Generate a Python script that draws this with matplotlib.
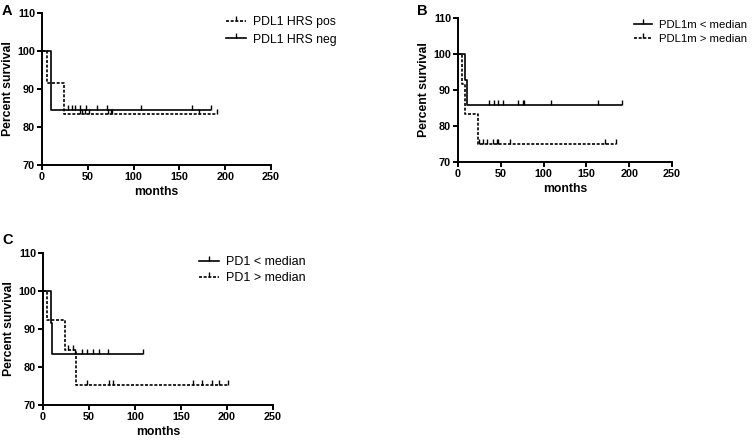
import numpy as np
import matplotlib
matplotlib.use('Agg')
import matplotlib.pyplot as plt
from matplotlib.lines import Line2D

W, H = 753, 440
plt.rcParams['font.family'] = ['Liberation Sans', 'DejaVu Sans']

# ---------------- data ----------------
# Panel A
a_pos_t = [0, 5.5, 24.4]
a_pos_s = [100, 91.7, 83.3]
a_pos_end = 190.7
a_pos_cens = [41.5, 44, 47, 51.3, 72.4, 75, 76.8, 171.7, 190.7]
a_neg_t = [0, 10]
a_neg_s = [100, 84.6]
a_neg_end = 184
a_neg_cens = [28.7, 33, 36, 41.5, 47.7, 59.7, 71.3, 108, 164, 184]

# Panel B
b_low_t = [0, 8.5, 10.3]
b_low_s = [100, 92.9, 85.7]
b_low_end = 191.5
b_low_cens = [36.2, 42.4, 47.1, 52.9, 70.5, 76.4, 77.5, 108.4, 164, 191.5]
b_high_t = [0, 4.7, 8.5, 23.5]
b_high_s = [100, 91.7, 83.3, 75.0]
b_high_end = 184.2
b_high_cens = [24.9, 29.6, 33.5, 41.2, 45.2, 47.1, 60.7, 171.7, 184.2]

# Panel C
c_low_t = [0, 8.4, 10.2]
c_low_s = [100, 91.7, 83.3]
c_low_end = 108.4
c_low_cens = [34.8, 42, 48.2, 54, 60.9, 71, 108.4]
c_high_t = [0, 4.7, 23.6, 35.6]
c_high_s = [100, 92.3, 84.6, 75.2]
c_high_end = 201.4
c_high_cens = [27.5, 32.3, 47.5, 72, 75.8, 163.4, 172.5, 183.5, 191.5, 201.4]

x_ticks = [0, 50, 100, 150, 200, 250]
y_ticks = [70, 80, 90, 100, 110]

TICK = [(0, 0), (0, 1)]
DASH = (0, (1.8, 1.0))


def km(ax, t, s, end, cens, dashed):
    ls = DASH if dashed else '-'
    xs = list(t) + [end]
    ys = list(s) + [s[-1]]
    ax.step(xs, ys, where='post', color='black', lw=1.2, ls=ls,
            solid_capstyle='butt', dash_capstyle='butt')
    tt = np.asarray(t)
    ss = np.asarray(s)
    cy = [ss[np.searchsorted(tt, c, side='right') - 1] for c in cens]
    ax.plot(cens, cy, ls='none', marker=TICK, markersize=7, mew=1.0,
            color='black')


def handle(dashed):
    return Line2D([], [], color='black', lw=1.2, ls=DASH if dashed else '-',
                  marker=TICK, markersize=7, mew=1.0)


def style(ax):
    ax.set_xlim(0, 250)
    ax.set_ylim(70, 110)
    ax.set_xticks(x_ticks)
    ax.set_yticks(y_ticks)
    for sp in ['top', 'right']:
        ax.spines[sp].set_visible(False)
    for sp in ['left', 'bottom']:
        ax.spines[sp].set_linewidth(1.4)
    ax.tick_params(direction='out', length=3.5, width=1.4, labelsize=7.8,
                   pad=1.5)
    for lab in ax.get_xticklabels() + ax.get_yticklabels():
        lab.set_fontweight('bold')
    ax.set_xlabel('months', fontsize=8.8, fontweight='bold', labelpad=3)
    ax.set_ylabel('Percent survival', fontsize=8.8, fontweight='bold',
                  labelpad=2)


def px_axes(fig, x0, x1, ytop, ybot):
    return fig.add_axes([x0 / W, (H - ybot) / H, (x1 - x0) / W,
                         (ybot - ytop) / H])


fig = plt.figure(figsize=(W / 100, H / 100), dpi=100)

# Panel A
axA = px_axes(fig, 42, 271, 13, 165)
km(axA, a_pos_t, a_pos_s, a_pos_end, a_pos_cens, True)
km(axA, a_neg_t, a_neg_s, a_neg_end, a_neg_cens, False)
style(axA)
axA.legend([handle(True), handle(False)], ['PDL1 HRS pos', 'PDL1 HRS neg'],
           loc='upper left', bbox_to_anchor=(226 / W, 1 - 16 / H),
           bbox_transform=fig.transFigure, frameon=False, fontsize=8.8,
           handlelength=1.6, handletextpad=0.6, borderpad=0,
           borderaxespad=0, labelspacing=0.45, numpoints=1)

# Panel B
axB = px_axes(fig, 458, 672, 18, 162)
km(axB, b_low_t, b_low_s, b_low_end, b_low_cens, False)
km(axB, b_high_t, b_high_s, b_high_end, b_high_cens, True)
style(axB)
axB.legend([handle(False), handle(True)], ['PDL1m < median', 'PDL1m > median'],
           loc='upper left', bbox_to_anchor=(634 / W, 1 - 20 / H),
           bbox_transform=fig.transFigure, frameon=False, fontsize=8.2,
           handlelength=1.6, handletextpad=0.6, borderpad=0,
           borderaxespad=0, labelspacing=0.35, numpoints=1)

# Panel C
axC = px_axes(fig, 43, 273, 253, 405)
km(axC, c_low_t, c_low_s, c_low_end, c_low_cens, False)
km(axC, c_high_t, c_high_s, c_high_end, c_high_cens, True)
style(axC)
axC.legend([handle(False), handle(True)], ['PD1 < median', 'PD1 > median'],
           loc='upper left', bbox_to_anchor=(199 / W, 1 - 256 / H),
           bbox_transform=fig.transFigure, frameon=False, fontsize=9,
           handlelength=1.6, handletextpad=0.6, borderpad=0,
           borderaxespad=0, labelspacing=0.35, numpoints=1)

fig.text(2 / W, 1 - 4 / H, 'A', fontsize=10.5, fontweight='bold', va='top')
fig.text(417 / W, 1 - 4 / H, 'B', fontsize=10.5, fontweight='bold', va='top')
fig.text(2 / W, 1 - 233 / H, 'C', fontsize=10.5, fontweight='bold', va='top')

fig.savefig('out.png', dpi=100)
